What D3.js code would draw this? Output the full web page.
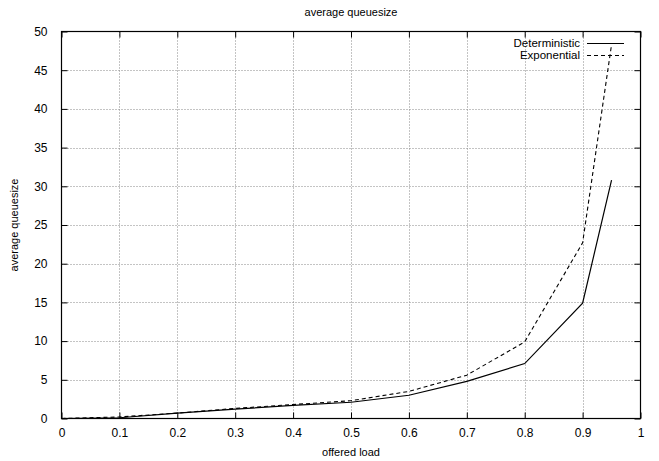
<!DOCTYPE html>
<html><head><meta charset="utf-8">
<script src="https://cdn.jsdelivr.net/npm/d3@7"></script>
<style>body{margin:0;background:#fff}svg{display:block}text{font-family:"Liberation Sans",Arial,sans-serif;fill:#000}</style>
</head><body><svg id="c" width="659" height="461"></svg>
<script>
const loads = [0, 0.1, 0.2, 0.3, 0.4, 0.5, 0.6, 0.7, 0.8, 0.9, 0.95];
const deterministic = [0, 0.1, 0.7, 1.2, 1.7, 2.1, 3.0, 4.8, 7.1, 14.9, 30.8];
const exponential = [0, 0.2, 0.7, 1.3, 1.8, 2.3, 3.5, 5.6, 9.9, 22.7, 48.3];
const xTicks = [0, 0.1, 0.2, 0.3, 0.4, 0.5, 0.6, 0.7, 0.8, 0.9, 1];
const yTicks = [0, 5, 10, 15, 20, 25, 30, 35, 40, 45, 50];
const seriesNames = ["Deterministic", "Exponential"];

const svg = d3.select("#c");
const L = 61.5, R = 640.5, T = 31.5, B = 418.5;
const x = d3.scaleLinear().domain([0, 1]).range([L, R]);
const y = d3.scaleLinear().domain([0, 50]).range([B, T]);

// grid
const g = svg.append("g");
g.selectAll(".gx").data(xTicks.slice(1, -1)).join("line")
  .attr("x1", d => Math.round(x(d)) + 0.5).attr("x2", d => Math.round(x(d)) + 0.5)
  .attr("y1", T).attr("y2", B).attr("stroke", "#888").attr("stroke-dasharray", "1,2");
g.selectAll(".gy").data(yTicks.slice(1, -1)).join("line")
  .attr("y1", d => Math.round(y(d)) + 0.5).attr("y2", d => Math.round(y(d)) + 0.5)
  .attr("x1", L).attr("x2", R).attr("stroke", "#888").attr("stroke-dasharray", "1,2");

// axes (ticks inward)
const tl = 6;
const ax = svg.append("g").attr("transform", `translate(0,${B})`)
  .call(d3.axisBottom(x).tickValues(xTicks).tickFormat(d3.format("")).tickSize(-tl).tickPadding(10));
const axT = svg.append("g").attr("transform", `translate(0,${T})`)
  .call(d3.axisTop(x).tickValues(xTicks).tickFormat("").tickSize(-tl));
const ay = svg.append("g").attr("transform", `translate(${L},0)`)
  .call(d3.axisLeft(y).tickValues(yTicks).tickSize(-tl).tickPadding(14));
const ayR = svg.append("g").attr("transform", `translate(${R},0)`)
  .call(d3.axisRight(y).tickValues(yTicks).tickFormat("").tickSize(-tl));
[ax, axT, ay, ayR].forEach(a => {
  a.select(".domain").remove();
  a.selectAll("line").attr("stroke", "#000");
  a.selectAll("text").attr("font-size", 12).style("font-family", "Liberation Sans, Arial, sans-serif");
});

// border
svg.append("rect").attr("x", L).attr("y", T).attr("width", R - L).attr("height", B - T)
  .attr("fill", "none").attr("stroke", "#000").attr("stroke-width", 1.2);

// lines
const line = d3.line().x((d, i) => x(loads[i])).y(d => y(d));
svg.append("path").datum(deterministic).attr("d", line).attr("fill", "none").attr("stroke", "#000").attr("stroke-width", 1.2);
svg.append("path").datum(exponential).attr("d", line).attr("fill", "none").attr("stroke", "#000").attr("stroke-width", 1.1).attr("stroke-dasharray", "4,3");

// legend
const leg = svg.append("g");
seriesNames.forEach((n, i) => {
  const yy = 42.5 + i * 12;
  leg.append("text").attr("x", 580).attr("y", yy + 4).attr("text-anchor", "end").attr("font-size", 11.5).text(n);
  leg.append("line").attr("x1", 587).attr("x2", 624).attr("y1", Math.round(yy) + 0.5).attr("y2", Math.round(yy) + 0.5)
    .attr("stroke", "#000").attr("stroke-width", 1.1).attr("stroke-dasharray", i ? "4,3" : null);
});

// titles
svg.append("text").attr("x", 351).attr("y", 16).attr("text-anchor", "middle").attr("font-size", 11).text("average queuesize");
svg.append("text").attr("x", 351).attr("y", 456).attr("text-anchor", "middle").attr("font-size", 11).text("offered load");
svg.append("text").attr("transform", "translate(18,225) rotate(-90)").attr("text-anchor", "middle").attr("font-size", 11).text("average queuesize");
</script></body></html>
